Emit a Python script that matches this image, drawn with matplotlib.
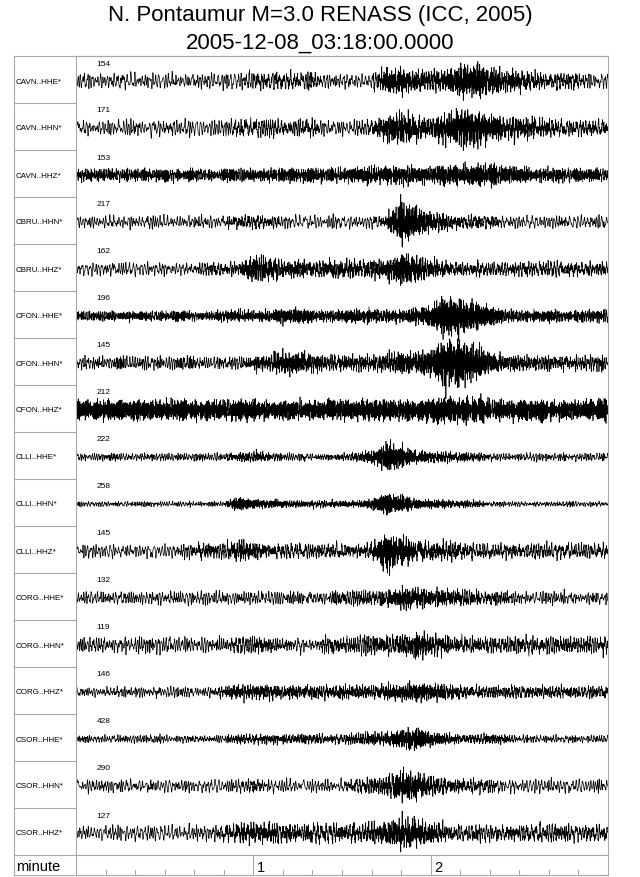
import matplotlib
matplotlib.use("Agg")
import matplotlib.pyplot as plt
from matplotlib.lines import Line2D
import numpy as np

plt.rcParams['font.family'] = ['Liberation Sans', 'DejaVu Sans']

title1 = "N. Pontaumur M=3.0 RENASS (ICC, 2005)"
title2 = "2005-12-08_03:18:00.0000"

stations = ["CAVN..HHE*", "CAVN..HHN*", "CAVN..HHZ*",
            "CBRU..HHN*", "CBRU..HHZ*",
            "CFON..HHE*", "CFON..HHN*", "CFON..HHZ*",
            "CLLI..HHE*", "CLLI..HHN*", "CLLI..HHZ*",
            "CORG..HHE*", "CORG..HHN*", "CORG..HHZ*",
            "CSOR..HHE*", "CSOR..HHN*", "CSOR..HHZ*"]
peaks = [154, 171, 153, 217, 162, 196, 145, 212, 222, 258, 145, 132, 119, 146, 428, 290, 127]

# envelope (half amplitude, px) every 5 s, 0..180 s
env_t = np.arange(0, 181, 5)
envelopes = [
    [6,6,6,6,6,6,6,6,6,6,6,6,7,7,7,7,7,6,6,6,6, 12,13,10,9,10,17,18,14,10,10,8,7,7,7,6,6],
    [6,6,6,6,6,6,6,6,6,6,6,7,7,7,7,7,7,6,6,6,7, 12,16,12,10,14,20,18,14,11,10,9,8,7,7,7,7],
    [5,5,5,5,5,5,5,5,5,5,5,5,6,6,6,6,6,6,6,6,8, 8,9,8,8,9,9,10,11,8,7,6,6,6,5,5,6],
    [5,5,5,5,5,5,5,5,5,5,5,6,6,6,5,5,5,5,5,5,5, 6,22,16,10,8,6,6,6,5,5,5,5,5,5,5,5],
    [5,5,5,5,5,5,5,5,5,6,6,6,14,12,8,8,7,8,8,8,8, 9,17,13,8,7,6,6,6,6,6,6,6,6,6,6,6],
    [4,4,4,4,4,4,4,4,4,4,5,5,5,5,8,8,5,5,5,6,6, 6,6,7,10,22,18,14,9,6,5,5,5,5,5,5,5],
    [5,5,5,5,5,5,5,5,5,5,5,5,6,7,11,10,8,7,7,7,7, 8,10,10,14,24,24,18,12,8,7,6,6,6,6,6,6],
    [8,8,8,8,8,8,8,8,8,8,8,8,9,9,8,8,8,8,8,8,8, 8,9,9,10,12,12,11,9,8,8,8,8,8,8,8,8],
    [3,3,3,3,3,3,3,3,3,3,3,4,5,4,3,3,3,3,3,4,6, 15,12,6,5,5,4,4,3,3,3,3,3,3,3,3,3],
    [2,2,2,2,2,2,2,2,2,2,2,7,5,4,4,3,3,3,3,3,5, 12,9,5,4,4,3,3,2,2,2,2,2,2,2,2,2],
    [5,5,5,5,5,5,5,5,6,7,6,9,8,6,6,6,6,6,6,6,7, 20,14,9,8,8,7,6,6,6,6,6,6,6,6,6,6],
    [5,5,5,5,5,5,5,5,5,5,5,5,5,5,5,5,5,5,6,6,6, 7,10,10,9,8,7,6,6,6,5,5,5,5,5,5,5],
    [6,6,6,6,6,6,6,6,6,6,6,7,7,7,6,6,6,7,7,7,8, 8,9,13,10,8,7,7,7,7,7,7,7,7,7,7,7],
    [4,4,4,4,4,4,4,4,4,4,5,7,7,6,6,6,6,6,6,6,6, 7,8,10,8,7,6,5,5,5,5,5,5,5,5,5,5],
    [3,3,3,3,3,3,3,3,3,3,3,4,4,4,4,4,4,4,4,5,6, 6,10,12,7,5,4,4,5,4,3,3,3,3,3,3,3],
    [5,5,5,5,5,5,5,5,5,5,5,5,6,5,5,5,5,5,5,6,7, 9,15,14,9,7,6,6,6,5,5,5,5,5,5,5,5],
    [6,6,6,6,6,6,6,6,6,6,7,8,10,10,8,8,8,8,8,8,9, 11,15,14,10,8,7,7,7,7,7,7,7,7,7,7,7],
]
# dominant background frequency of each trace (Hz)
noise_freq = [1.0, 1.0, 2.2, 1.0, 1.0, 2.2, 1.4, 3.5, 1.4, 1.4, 1.0, 1.2, 1.2, 1.2, 1.3, 1.0, 1.0]

W, H = 640, 878
ROW = 47
fig = plt.figure(figsize=(W / 100, H / 100), dpi=100)
gray = '#a8a8a8'


def fx(px):
    return px / W


def fy(py):
    return 1 - py / H


def texture(t, f_lo, f_hi, idx, n=80):
    # deterministic wiggle texture, unit rms
    k = np.arange(1, n + 1)
    u = (k * 0.61803398875 + idx * 0.3819660113) % 1.0
    f = f_lo + (f_hi - f_lo) * u
    ph = 2 * np.pi * ((k * k * 0.4142135624 + k * 0.7320508 + idx * 0.5698402910) % 1.0)
    s = np.sin(2 * np.pi * np.outer(t, f) + ph).sum(axis=1)
    return s / np.sqrt(n / 2)


def wobble(t, f0, idx, dt):
    # steady wiggle whose frequency drifts slowly
    drift = texture(t, 0.03, 0.3, idx + 40, n=20)
    phase = 2 * np.pi * np.cumsum(f0 * (1 + 0.3 * drift)) * dt
    return np.sin(phase)


# traces
ax = fig.add_axes([fx(76), fy(856), fx(608) - fx(76), fy(57) - fy(856)])
ax.set_xlim(0, 180)
ax.set_ylim(len(stations), 0)
ax.set_xticks([])
ax.set_yticks([])
for s in ax.spines.values():
    s.set_color(gray)
    s.set_linewidth(0.8)

fs = 25
t = np.arange(0, 180, 1 / fs)
for i, env in enumerate(envelopes):
    e = np.interp(t, env_t, env)
    bg = min(env)
    ev = np.sqrt(np.clip(e ** 2 - bg ** 2, 0, None))
    f0 = noise_freq[i]
    back = 0.65 * wobble(t, f0, i, 1 / fs) + 0.4 * texture(t, 0.6 * f0, 2.5 * f0, i)
    w = bg * back + ev / 2.3 * texture(t, 2.5, 8.0, i + 17)
    ax.plot(t, i + 25 / ROW - w / ROW, color='k', lw=0.5)
    ax.text(7.0, i + 7 / ROW, str(peaks[i]), fontsize=6, va='center', ha='left')

# label column
fig.add_artist(Line2D([fx(14), fx(608)], [fy(57), fy(57)], color=gray, lw=0.8))
fig.add_artist(Line2D([fx(14), fx(14)], [fy(57), fy(876)], color=gray, lw=0.8))
fig.add_artist(Line2D([fx(14), fx(608)], [fy(876), fy(876)], color=gray, lw=0.8))
for i, name in enumerate(stations):
    top = 57 + ROW * i
    fig.add_artist(Line2D([fx(14), fx(76)], [fy(top + ROW), fy(top + ROW)], color=gray, lw=0.8))
    fig.text(fx(16), fy(top + 25), name, fontsize=5.8, va='center', ha='left')

# time axis row
tax = fig.add_axes([fx(76), fy(876), fx(608) - fx(76), fy(856) - fy(876)])
tax.set_xlim(0, 180)
tax.set_ylim(0, 1)
tax.set_xticks([])
tax.set_yticks([])
for s in tax.spines.values():
    s.set_color(gray)
    s.set_linewidth(0.8)
for m in range(10, 180, 10):
    if m % 60 == 0:
        tax.plot([m, m], [0, 1], color=gray, lw=0.8)
        tax.text(m + 1.2, 0.42, str(m // 60), fontsize=10.5, va='center', ha='left')
    else:
        tax.plot([m, m], [0, 0.25], color=gray, lw=0.8)
fig.text(fx(16), fy(867), "minute", fontsize=10.5, va='center', ha='left')

fig.text(0.5, fy(15), title1, fontsize=16, ha='center', va='center')
fig.text(0.5, fy(43), title2, fontsize=16, ha='center', va='center')

fig.savefig("out.png", dpi=100)
